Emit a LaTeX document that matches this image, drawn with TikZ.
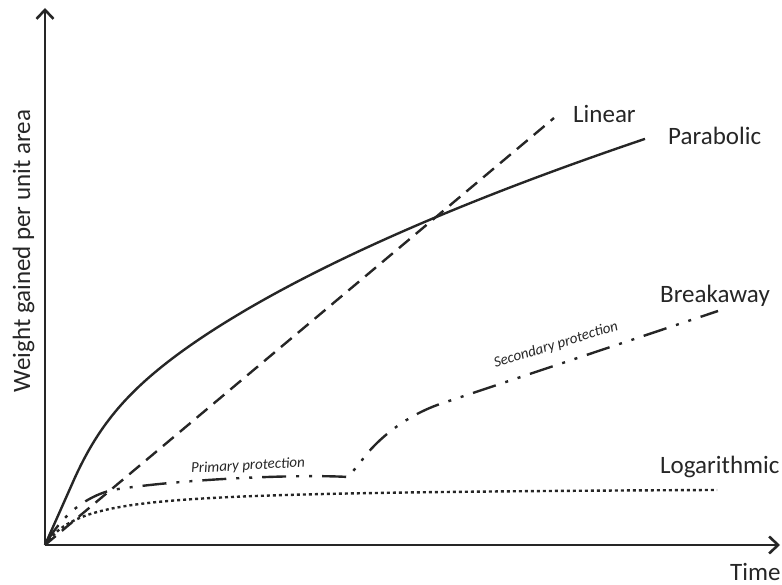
\documentclass[tikz,border=0pt]{standalone}
\usepackage{fontspec}
\setmainfont{Carlito}
\usetikzlibrary{arrows.meta}
\definecolor{ink}{RGB}{38,38,38}
\begin{document}
\begin{tikzpicture}[x=1pt,y=-1pt,
  axis/.style={draw=ink,line width=2.8pt,-{Straight Barb[length=9pt,width=17pt,line width=2.6pt]}},
  curve/.style={draw=ink,line width=2.4pt,line join=round},
  biglabel/.style={text=ink,font=\fontsize{25}{30}\selectfont,inner sep=0pt},
  smalllabel/.style={text=ink,font=\fontsize{15}{18}\selectfont\itshape,inner sep=0pt},
  lineardash/.style={dash pattern=on 14pt off 8pt},
  logdots/.style={dash pattern=on 3pt off 3pt},
  breakdash/.style={dash pattern=on 24pt off 10pt on 3pt off 10pt on 3pt off 10pt}]
\useasboundingbox (0,0) rectangle (782,585);
\coordinate (O) at (45,545);
\coordinate (ytop) at (45,8);
\coordinate (xend) at (780,545);
% axes
\draw[axis] (O) -- (ytop);
\draw[axis] (O) -- (xend);
% linear
\coordinate (linend) at (554,118);
\draw[curve,lineardash] (O) -- (linend);
% parabolic
\draw[curve] (O) -- plot[domain=30:600,samples=200] ({45+\x},{545-16.58*sqrt(\x)*(1-exp(-\x/22))});
% logarithmic
\draw[curve,logdots,domain=0:672,samples=150] plot ({45+\x},{545-58.3*(\x/(\x+40))});
% breakaway
\draw[curve,breakdash] (O) .. controls (62,515) and (85,497) .. (112,490)
  .. controls (180,479) and (300,474) .. (348,477) -- (360,463)
  .. controls (372,445) and (400,418) .. (440,404) -- (718,311);
% labels
\node[biglabel,anchor=base west] (lin) at (573,123) {Linear};
\node[biglabel,anchor=base west] (par) at (668,145) {Parabolic};
\node[biglabel,anchor=base west] (brk) at (660,303) {Breakaway};
\node[biglabel,anchor=base west] (log) at (660,473) {Logarithmic};
\node[biglabel,anchor=base west] (time) at (730,580) {Time};
\node[biglabel,anchor=base,rotate=90] (ylab) at (30,251) {Weight gained per unit area};
\node[smalllabel,rotate=3] (prim) at (248,466) {Primary protection};
\node[smalllabel,rotate=17] (sec) at (556,345) {Secondary protection};
\end{tikzpicture}
\end{document}
